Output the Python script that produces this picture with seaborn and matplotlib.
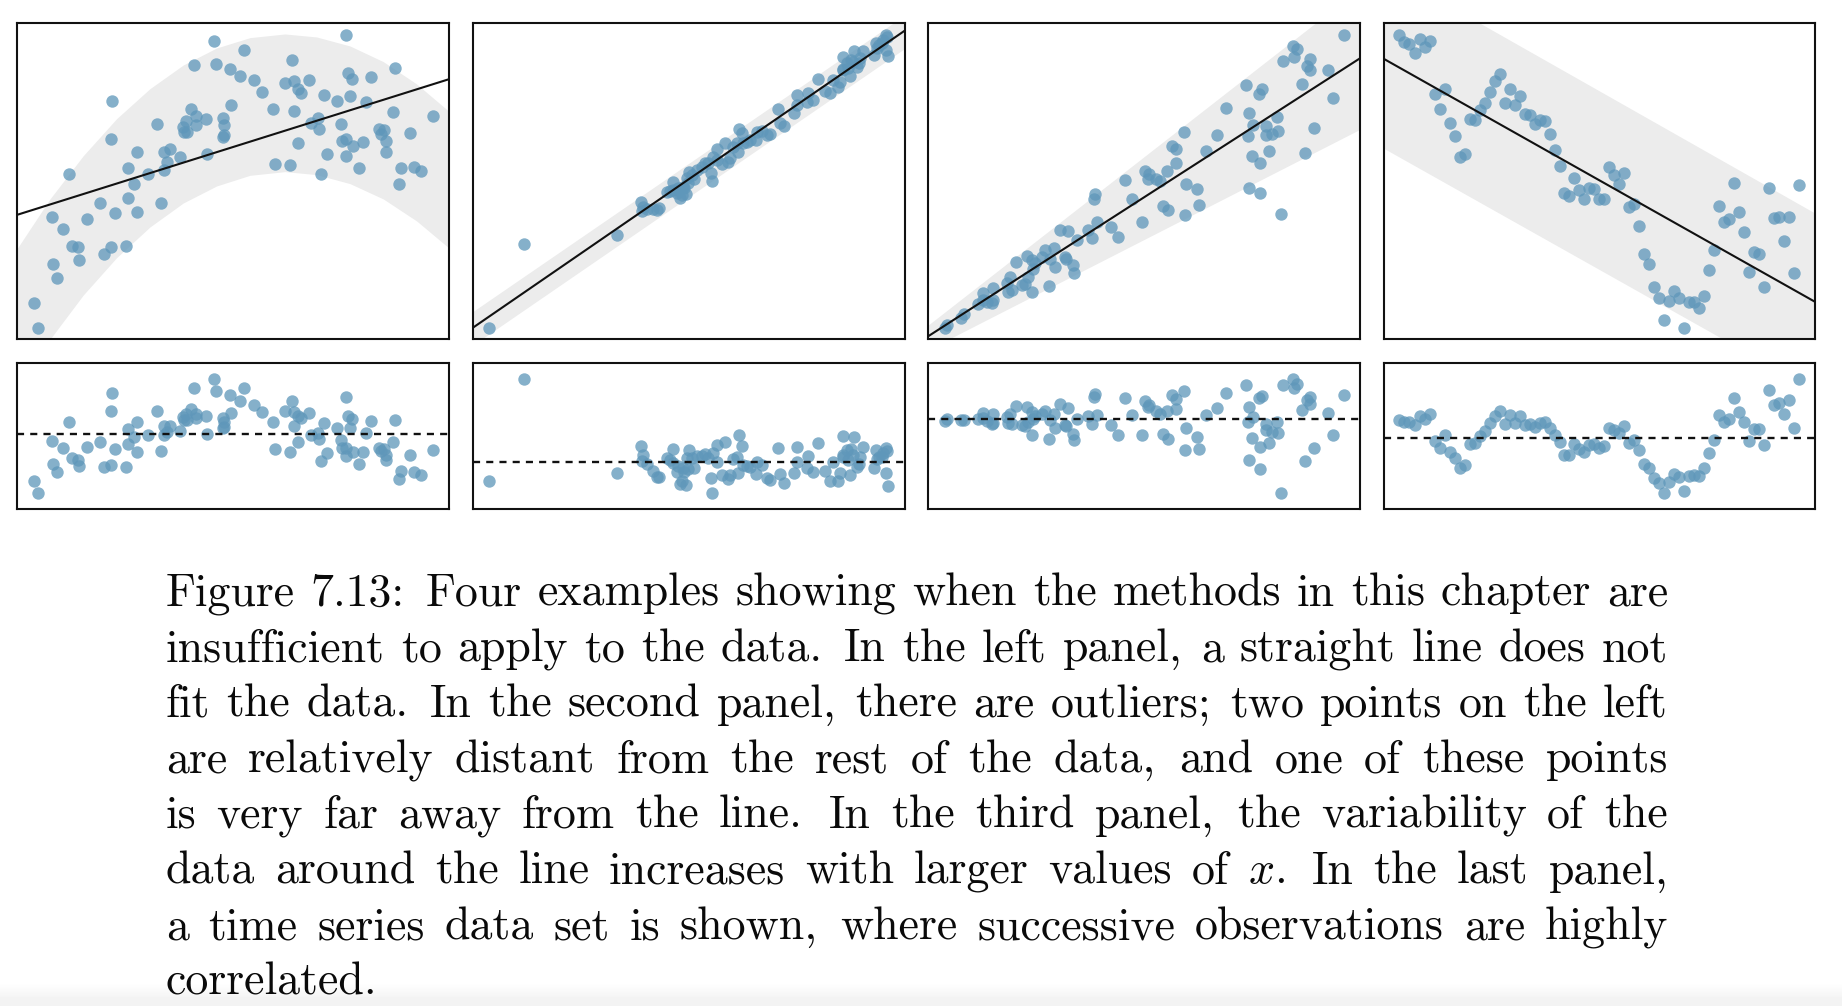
import numpy as np
import matplotlib
matplotlib.use("Agg")
import matplotlib.pyplot as plt
import seaborn as sns

# values, x in reading units, y as height above the frame bottom
x1 = [642,1037,733,877,583,647,689,1185,720,1043,1057,1112,762,854,883,927,894,904,787,971,1051,1012,1098,337,694,819,881,574,589,618,668,557,1178,1299,955,932,1023,472,587,671,548,957,1138,1151,552,562,1143,1229,673,670,332,1157,1025,1037,894,1090,1060,491,510,410,1157,622,982,1039,541,500,825,871,385,491,1077,1202,1241,1262,207,445,963,401,1197,385,301,483,344,412,157,260,188,217,234,333,378,313,238,160,172,101,114]
y1 = [895,913,868,839,823,825,811,815,790,799,782,787,777,770,774,778,750,740,741,733,729,716,713,714,704,692,684,692,670,661,665,656,681,671,665,649,647,646,642,642,636,631,631,628,621,621,615,619,613,608,602,596,594,600,590,591,581,563,571,561,563,556,555,550,547,531,526,524,513,509,515,515,517,506,497,496,496,466,465,423,408,408,378,381,366,360,332,280,277,277,279,257,238,226,184,109,35]

x2 = [87,192,471,544,545,560,578,590,598,622,638,640,650,660,665,678,672,680,688,703,710,735,745,752,757,760,772,795,785,805,810,833,830,838,845,860,870,888,892,905,920,930,955,960,972,1003,1010,1012,1040,1045,1058,1075,1095,1110,1118,1135,1140,1150,1148,1165,1170,1172,1183,1190,1197,1208,1242,1248,1258,1270,1278,1278,1285,1280,548,630,655,668,685,695,725,770,820,850,1150,1180,1160,1265,1250,1200]
y2 = [35,287,313,412,386,390,390,388,393,443,471,448,438,423,433,435,453,483,503,481,508,528,528,498,474,548,570,590,526,533,543,563,588,632,618,593,598,598,623,626,613,616,691,648,640,680,703,732,713,738,718,782,746,738,778,756,773,846,811,813,790,838,866,818,828,866,853,888,883,898,913,868,851,908,398,446,453,458,468,493,518,538,578,588,808,833,828,888,873,843]

x3 = [1286,1133,1147,1104,1138,1186,1177,1185,1240,992,1160,1041,1032,1253,933,1003,1087,1013,1052,807,905,998,1052,1070,1089,1198,771,782,874,1061,1170,1011,783,1035,691,703,756,700,723,735,629,813,845,1002,1035,539,537,651,851,745,760,811,1098,680,546,588,436,460,518,532,608,487,418,390,337,302,380,405,350,360,450,452,474,477,421,355,338,284,275,403,320,330,278,290,351,234,204,235,205,190,231,215,147,137,95,90]
y3 = [913,880,871,835,846,840,821,807,807,764,767,752,737,723,695,678,668,642,640,622,613,611,614,616,625,633,580,570,564,566,559,551,530,530,504,496,504,482,480,475,478,467,452,453,439,436,420,420,403,400,387,373,375,353,352,337,328,326,329,305,307,297,273,268,249,233,248,240,238,228,248,242,223,200,216,210,188,186,170,159,163,166,143,148,141,154,140,118,118,105,108,113,75,65,43,33]

x4 = [82,97,112,128,143,158,173,188,218,203,233,248,263,278,293,308,323,338,353,368,383,398,413,428,443,458,473,488,503,518,533,548,563,577,592,607,622,637,652,667,682,697,712,727,742,757,772,787,802,817,832,847,862,877,892,907,922,937,952,967,982,997,1012,1027,1042,1057,1072,1087,1102,1117,1132,1147,1162,1177,1192,1207,1222,1237,1252,1267,1282]
y4 = [913,893,886,859,902,878,894,737,752,692,649,611,546,555,660,657,688,710,741,775,795,710,752,702,729,676,673,645,657,656,615,569,520,440,431,485,448,420,455,451,420,420,516,493,467,500,397,406,340,257,225,158,123,58,115,146,123,35,111,111,95,131,207,268,401,352,360,470,383,321,203,261,256,158,455,363,367,295,367,200,463]

# grey bands read at a few places along each panel
band1_x = [52,150,250,350,450,550,650,750,855,950,1050,1150,1250,1348]
band1_hi = [273,421,551,662,752,823,874,905,916,907,880,833,766,683]
band1_lo = [-149,0,133,245,337,409,460,492,503,494,467,421,355,273]
band2_x = [38,1335]
band2_hi = [83,973]
band2_lo = [-18,873]
band3_x = [40,1335]
band3_hi = [43,1053]
band3_lo = [-31,630]
band4_x = [35,1330]
band4_hi = [1112,378]
band4_lo = [573,-155]

caption = [
    "Figure 7.13: Four examples showing when the methods in this chapter are",
    "insufficient to apply to the data. In the left panel, a straight line does not",
    "fit the data. In the second panel, there are outliers; two points on the left",
    "are relatively distant from the rest of the data, and one of these points",
    "is very far away from the line. In the third panel, the variability of the",
    "data around the line increases with larger values of $x$. In the last panel,",
    "a time series data set is shown, where successive observations are highly",
    "correlated.",
]

sns.set_theme(style="white")
plt.rcParams["mathtext.fontset"] = "cm"
plt.rcParams["font.family"] = ["cmr10", "DejaVu Serif"]
plt.rcParams["axes.unicode_minus"] = False

W, H = 1842, 1006
fig = plt.figure(figsize=(W / 100, H / 100), dpi=100, facecolor="white")

def add_ax(left, right, top, bottom):
    ax = fig.add_axes([left / W, 1 - bottom / H, (right - left) / W, (bottom - top) / H])
    ax.set_xticks([])
    ax.set_yticks([])
    for s in ax.spines.values():
        s.set_color("#111111")
        s.set_linewidth(1.5)
    return ax

panels = [
    (x1, y1, band1_x, band1_hi, band1_lo, 17.3, 449.3, 52, 1348),
    (x2, y2, band2_x, band2_hi, band2_lo, 472.7, 905, 38, 1335),
    (x3, y3, band3_x, band3_hi, band3_lo, 928.3, 1360, 40, 1335),
    (x4, y4, band4_x, band4_hi, band4_lo, 1383.7, 1815.3, 35, 1330),
]
dot_kws = dict(s=80, color="#5f97ba", alpha=0.76, linewidth=0, zorder=2)

for x, y, bx, bhi, blo, left, right, xmin, xmax in panels:
    # main panel
    ax = add_ax(left, right, 23.3, 339.3)
    ax.fill_between(bx, blo, bhi, color="#ececec", linewidth=0, zorder=1)
    sns.scatterplot(x=x, y=y, ax=ax, **dot_kws)
    ax.set_xlim(xmin, xmax)
    ax.set_ylim(0, 948)
    sns.regplot(x=x, y=y, ax=ax, scatter=False, ci=None, truncate=False,
                color="#111111", line_kws=dict(linewidth=1.5, zorder=3))
    ax.set_xlim(xmin, xmax)
    ax.set_ylim(0, 948)
    ax.set_xlabel("")
    ax.set_ylabel("")

    # residuals under it
    slope, icpt = np.polyfit(x, y, 1)
    resid = np.array(y) - (slope * np.array(x) + icpt)
    ax2 = add_ax(left, right, 363.3, 509.3)
    sns.scatterplot(x=x, y=resid, ax=ax2, **dot_kws)
    ax2.axhline(0, color="#111111", linewidth=1.7, dashes=(3.0, 2.6), zorder=3)
    ax2.margins(y=0.14)
    ax2.set_xlim(xmin, xmax)

# faint shadow along the bottom edge of the page
shade = fig.add_axes([0, 0, 1, 31 / H], zorder=-1)
shade.imshow([[1.0], [0.955]], cmap="gray", vmin=0, vmax=1, aspect="auto", interpolation="bilinear")
shade.axis("off")

# caption, set word by word so the lines are justified like the page
renderer = fig.canvas.get_renderer()
cap_left, cap_right = 165.7, 1668
for i, line in enumerate(caption):
    words = line.split(" ")
    base = 605.5 + 55.6 * i
    items = [fig.text(0, 1 - base / H, w, fontsize=33, color="#0a0a0a", va="baseline") for w in words]
    widths = [t.get_window_extent(renderer).width for t in items]
    # a bit more room after a sentence
    weights = [1.35 if w[-1] in ".:" else 1.15 if w[-1] in ",;" else 1.0 for w in words[:-1]]
    if i < len(caption) - 1:
        unit = (cap_right - cap_left - sum(widths)) / sum(weights)
    else:
        unit = 12.0
    pos = cap_left
    for j, t in enumerate(items):
        t.set_x(pos / W)
        pos += widths[j]
        if j < len(weights):
            pos += unit * weights[j]

fig.savefig("out.png", dpi=100)
